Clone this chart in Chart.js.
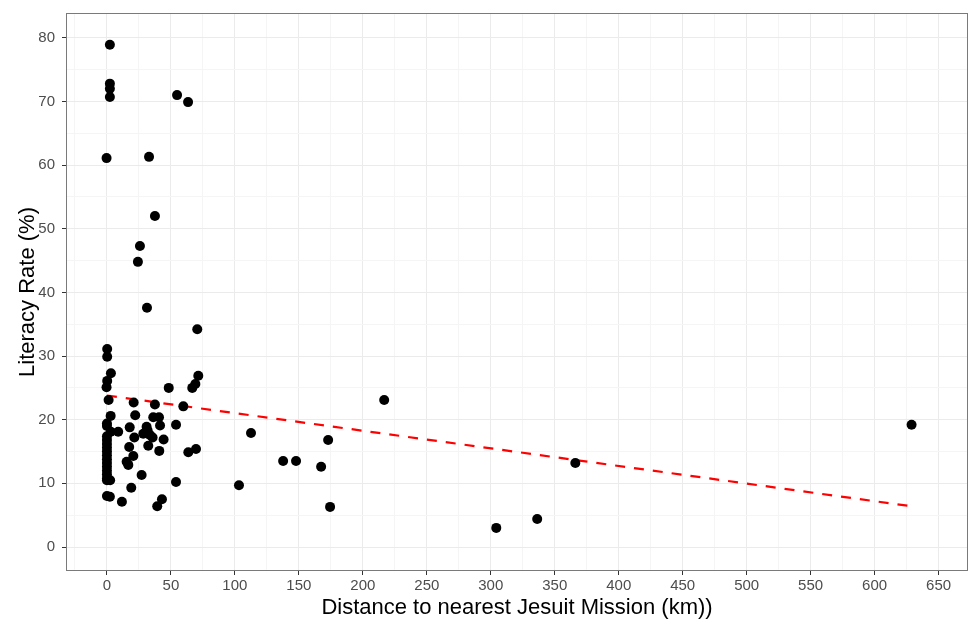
<!DOCTYPE html>
<html><head><meta charset="utf-8">
<script src="https://cdn.jsdelivr.net/npm/chart.js@4/dist/chart.umd.min.js"></script>
<style>html,body{margin:0;padding:0;background:#fff}#wrap{width:970px;height:623px}</style>
</head><body><div id="wrap"><canvas id="c" width="970" height="623"></canvas></div>
<script>
// Distance to nearest Jesuit mission (km)
const distances = [
  2.3, 2.3, 2.3, 2.3, -0.3, 54.8, 63.4, 32.9, 37.5, 25.8, 24.2, 31.3, 70.6,
  0.2, 0.2, 3.1, 0.2, -0.3, 1.3, 2.9, 0, 0, 3, 8.8,
  0, 0, 0, 0, 0, 0, 0, 0, 0, 0, 0, 0, 0,
  2.5, 0, 2.3, 11.7, 19.0, 27.1, 15.4, 16.7, 20.6, 17.4, 40.9, 32.3, 44.3,
  35.7, 28.4, 31.8, 31.0, 21.4, 17.8, 41.5, 36.2, 40.7, 22.1, 20.9, 37.5,
  59.7, 54.0, 48.3, 66.7, 69.1, 71.4, 54.0, 43.0, 39.3, 63.6, 69.6, 33.6,
  216.7, 112.6, 103.2, 137.7, 147.8, 167.4, 172.9, 174.4, 304.3, 336.3, 366.1, 628.9
];
// Literacy rate (%)
const literacy = [
  78.9, 72.8, 72.0, 70.7, 61.1, 71.0, 69.9, 61.3, 52.0, 47.3, 44.8, 37.6, 34.2,
  31.1, 29.9, 27.3, 26.1, 25.1, 23.1, 20.6, 19.4, 19.0, 18.1, 18.1,
  17.4, 16.8, 16.2, 15.6, 15.0, 14.4, 13.8, 13.2, 12.6, 12.0, 11.4, 10.8, 10.5,
  10.5, 8.0, 7.9, 7.1, 9.3, 11.3, 13.4, 12.9, 14.3, 15.7, 15.1, 15.9, 16.9,
  17.2, 17.8, 18.3, 18.9, 17.2, 18.8, 19.1, 20.4, 20.4, 20.7, 22.7, 22.4,
  22.1, 19.2, 25.0, 25.0, 25.6, 26.9, 10.2, 7.5, 6.4, 14.9, 15.4, 17.6,
  23.1, 17.9, 9.7, 13.5, 13.5, 12.6, 16.8, 6.3, 3.0, 4.4, 13.2, 19.2
];
// Linear fit (dashed red line), endpoints
const fitX = [0, 628.9];
const fitY = [23.8, 6.4];
// Tick labels
const xTicks = [0, 50, 100, 150, 200, 250, 300, 350, 400, 450, 500, 550, 600, 650];
const yTicks = [0, 10, 20, 30, 40, 50, 60, 70, 80];
const xMinor = [-25, 25, 75, 125, 175, 225, 275, 325, 375, 425, 475, 525, 575, 625];
const yMinor = [5, 15, 25, 35, 45, 55, 65, 75];

const points = distances.map((d, i) => ({x: d, y: literacy[i]}));
const fit = fitX.map((d, i) => ({x: d, y: fitY[i]}));

const FONT = "'Liberation Sans', Arial, Helvetica, sans-serif";
function isMajor(list, v) { return list.indexOf(v) !== -1; }

const borderPlugin = {
  id: 'panelBorder',
  afterDraw(chart) {
    const a = chart.chartArea, ctx = chart.ctx;
    ctx.save();
    ctx.strokeStyle = '#7a7a7a';
    ctx.lineWidth = 1;
    ctx.strokeRect(a.left + 0.5, a.top + 0.5, a.right - a.left - 1, a.bottom - a.top - 1);
    ctx.restore();
  }
};

function axisCfg(major, minor, min, max) {
  return {
    type: 'linear', min: min, max: max,
    afterBuildTicks(scale) {
      scale.ticks = major.concat(minor).sort((a, b) => a - b).map(v => ({value: v}));
    },
    grid: {
      color: c => (c.tick && isMajor(major, c.tick.value)) ? '#ebebeb' : '#f5f5f5',
      lineWidth: 1,
      tickColor: c => (c.tick && isMajor(major, c.tick.value)) ? '#333333' : 'rgba(0,0,0,0)',
      tickLength: 4,
      drawTicks: true
    },
    border: {display: false},
    ticks: {
      autoSkip: false, maxRotation: 0,
      color: '#4d4d4d',
      font: {family: FONT, size: 15},
      callback: v => isMajor(major, v) ? String(v) : ''
    }
  };
}

const xAxis = axisCfg(xTicks, xMinor, -32, 673);
xAxis.ticks.padding = 2;
xAxis.afterFit = s => { s.height = 52; s.paddingLeft = 0; s.paddingRight = 0; };
xAxis.title = {display: true, text: 'Distance to nearest Jesuit Mission (km))', color: '#000',
  font: {family: FONT, size: 22}, padding: {top: 0, bottom: 2}};

const yAxis = axisCfg(yTicks, yMinor, -3.77, 83.9);
yAxis.ticks.padding = 7;
yAxis.afterFit = s => { s.width = 66; s.paddingTop = 0; s.paddingBottom = 0; };
yAxis.title = {display: true, text: 'Literacy Rate (%)', color: '#000',
  font: {family: FONT, size: 22}, padding: {top: 15, bottom: 0}};

new Chart(document.getElementById('c'), {
  type: 'scatter',
  data: {
    datasets: [
      {type: 'scatter', data: points, backgroundColor: '#000', borderWidth: 0, pointRadius: 5, order: 1},
      {type: 'line', data: fit, borderColor: '#ff0000', borderWidth: 2.2, borderDash: [10, 9],
       pointRadius: 0, fill: false, tension: 0, order: 2}
    ]
  },
  options: {
    responsive: false, animation: false, devicePixelRatio: 1,
    layout: {autoPadding: false, padding: {top: 13, right: 2, left: 0, bottom: 0}},
    plugins: {legend: {display: false}, tooltip: {enabled: false}},
    scales: {x: xAxis, y: yAxis}
  },
  plugins: [borderPlugin]
});
</script>
</body></html>
